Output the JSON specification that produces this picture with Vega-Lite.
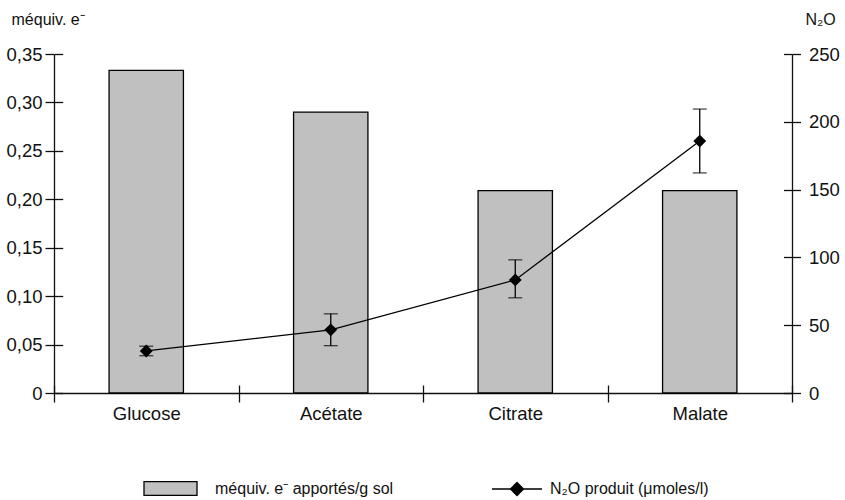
{
  "$schema": "https://vega.github.io/schema/vega-lite/v6.json",
  "width": 738,
  "height": 339,
  "autosize": "none",
  "padding": {"left": 54, "top": 54, "right": 53, "bottom": 107},
  "background": "white",
  "config": {
    "view": {"stroke": null},
    "font": "Liberation Sans",
    "axis": {
      "grid": false,
      "domainColor": "#111",
      "tickColor": "#111",
      "domainWidth": 1.3,
      "tickWidth": 1.3,
      "labelColor": "#111",
      "titleColor": "#111",
      "labelFont": "Liberation Sans",
      "titleFont": "Liberation Sans",
      "labelFontSize": 18.5,
      "titleFontSize": 16,
      "titleFontWeight": "normal"
    },
    "legend": {
      "labelFont": "Liberation Sans",
      "labelFontSize": 16,
      "labelColor": "#111",
      "labelLimit": 0,
      "padding": 0
    }
  },
  "data": {
    "values": [
      {"cat": "Glucose", "meq": 0.333, "n2o": 31, "lo": 27.5, "hi": 34.5},
      {"cat": "Acétate", "meq": 0.290, "n2o": 46.6, "lo": 34.9, "hi": 58.4},
      {"cat": "Citrate", "meq": 0.209, "n2o": 83.4, "lo": 70.2, "hi": 98.2},
      {"cat": "Malate", "meq": 0.209, "n2o": 185.8, "lo": 162.3, "hi": 209.4}
    ]
  },
  "layer": [
    {
      "mark": {"type": "bar", "stroke": "black", "strokeWidth": 1.3, "width": {"band": 0.403}},
      "encoding": {
        "x": {
          "field": "cat", "type": "nominal", "sort": null,
          "scale": {"domain": ["Glucose", "Acétate", "Citrate", "Malate"], "paddingInner": 0, "paddingOuter": 0},
          "axis": {"orient": "bottom", "title": null, "labelAngle": 0, "tickBand": "extent", "tickSize": 9, "labelPadding": 2}
        },
        "y": {
          "field": "meq", "type": "quantitative",
          "scale": {"domain": [0, 0.35], "nice": false},
          "axis": {
            "orient": "left",
            "values": [0, 0.05, 0.1, 0.15, 0.2, 0.25, 0.3, 0.35],
            "tickSize": 9, "labelPadding": 3,
            "labelExpr": "datum.value == 0 ? '0' : replace(format(datum.value, '.2f'), '.', ',')",
            "title": "méquiv. e⁻", "titleAngle": 0, "titleAlign": "left", "titleBaseline": "alphabetic",
            "titleX": -43, "titleY": -30
          }
        },
        "fill": {
          "datum": "méquiv. e⁻ apportés/g sol", "type": "nominal",
          "scale": {"range": ["#c0c0c0"]},
          "legend": {
            "orient": "none", "legendX": 89, "legendY": 407, "title": null,
            "symbolType": "M-1,-0.26H1V0.26H-1Z", "symbolSize": 2809,
            "symbolStrokeColor": "black", "symbolStrokeWidth": 1.3, "symbolFillColor": "#c0c0c0",
            "labelOffset": 17
          }
        }
      }
    },
    {
      "mark": {"type": "point", "opacity": 0},
      "encoding": {
        "x": {
          "field": "cat", "type": "nominal", "sort": null,
          "scale": {"domain": ["Glucose", "Acétate", "Citrate", "Malate"], "paddingInner": 0, "paddingOuter": 0},
          "axis": {"orient": "bottom", "title": null, "labels": false, "domain": false, "tickBand": "extent", "tickSize": -8}
        },
        "y": {
          "field": "meq", "type": "quantitative",
          "scale": {"domain": [0, 0.35], "nice": false},
          "axis": {"orient": "left", "values": [0, 0.05, 0.1, 0.15, 0.2, 0.25, 0.3, 0.35], "tickSize": -8.7, "labels": false, "domain": false, "title": null}
        }
      }
    },
    {
      "encoding": {
        "x": {
          "field": "cat", "type": "nominal", "sort": null,
          "scale": {"domain": ["Glucose", "Acétate", "Citrate", "Malate"], "paddingInner": 0, "paddingOuter": 0},
          "axis": null
        }
      },
      "layer": [
        {
          "mark": {"type": "rule", "color": "black", "strokeWidth": 1.3},
          "encoding": {
            "y": {"field": "lo", "type": "quantitative", "scale": {"domain": [0, 250], "nice": false}, "axis": null},
            "y2": {"field": "hi"}
          }
        },
        {
          "mark": {"type": "tick", "color": "black", "size": 14, "thickness": 1.3, "orient": "horizontal"},
          "encoding": {
            "y": {"field": "lo", "type": "quantitative", "scale": {"domain": [0, 250], "nice": false}, "axis": null}
          }
        },
        {
          "mark": {"type": "tick", "color": "black", "size": 14, "thickness": 1.3, "orient": "horizontal"},
          "encoding": {
            "y": {"field": "hi", "type": "quantitative", "scale": {"domain": [0, 250], "nice": false}, "axis": null}
          }
        },
        {
          "mark": {"type": "line", "strokeWidth": 1.3},
          "encoding": {
            "y": {"field": "n2o", "type": "quantitative", "scale": {"domain": [0, 250], "nice": false}, "axis": null},
            "stroke": {
              "datum": "N₂O produit (μmoles/l)", "type": "nominal",
              "scale": {"range": ["black"]},
              "legend": {
                "orient": "none", "legendX": 437, "legendY": 409, "title": null,
                "symbolType": "M-1,0H1M0,-0.26L0.26,0L0,0.26L-0.26,0Z", "symbolSize": 2500,
                "symbolFillColor": "black", "symbolStrokeColor": "black", "symbolStrokeWidth": 1.3,
                "labelOffset": 7,
                "encode": {"symbols": {"update": {"fill": {"value": "black"}}}}
              }
            }
          }
        },
        {
          "mark": {"type": "point", "shape": "diamond", "filled": true, "color": "black", "size": 165, "opacity": 1},
          "encoding": {
            "y": {"field": "n2o", "type": "quantitative", "scale": {"domain": [0, 250], "nice": false}, "axis": null}
          }
        }
      ]
    },
    {
      "mark": {"type": "point", "opacity": 0},
      "encoding": {
        "x": {
          "field": "cat", "type": "nominal", "sort": null,
          "scale": {"domain": ["Glucose", "Acétate", "Citrate", "Malate"], "paddingInner": 0, "paddingOuter": 0},
          "axis": null
        },
        "y": {
          "field": "n2o", "type": "quantitative",
          "scale": {"domain": [0, 250], "nice": false},
          "axis": {
            "orient": "right",
            "values": [0, 50, 100, 150, 200, 250],
            "tickSize": 8.5, "labelPadding": 8,
            "title": "N₂O", "titleAngle": 0, "titleAlign": "left", "titleBaseline": "alphabetic",
            "titleX": 13, "titleY": -30
          }
        }
      }
    },
    {
      "mark": {"type": "point", "opacity": 0},
      "encoding": {
        "x": {
          "field": "cat", "type": "nominal", "sort": null,
          "scale": {"domain": ["Glucose", "Acétate", "Citrate", "Malate"], "paddingInner": 0, "paddingOuter": 0},
          "axis": null
        },
        "y": {
          "field": "n2o", "type": "quantitative",
          "scale": {"domain": [0, 250], "nice": false},
          "axis": {"orient": "right", "values": [0, 50, 100, 150, 200, 250], "tickSize": -8.5, "labels": false, "domain": false, "title": null}
        }
      }
    }
  ],
  "resolve": {"scale": {"x": "independent", "y": "independent"}}
}
